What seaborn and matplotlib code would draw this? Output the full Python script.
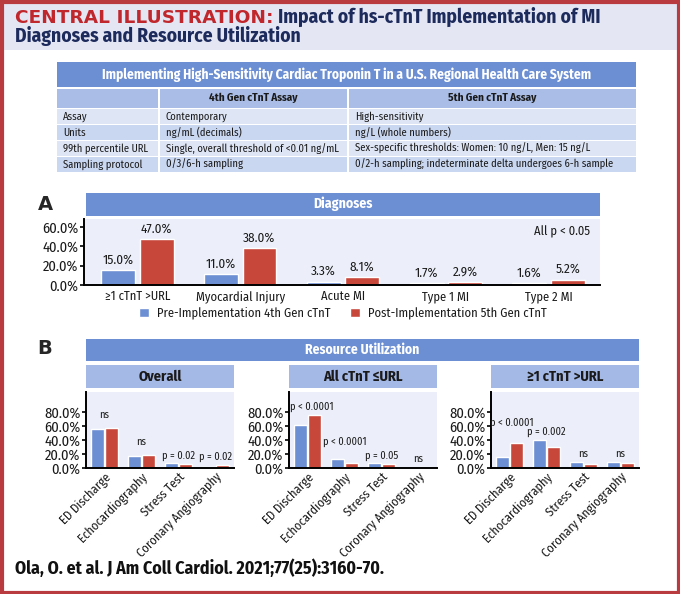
import matplotlib
matplotlib.use("Agg")
import matplotlib.pyplot as plt
import matplotlib.patches as mpatches
from matplotlib.ticker import PercentFormatter
import seaborn as sns
import pandas as pd

sns.set_style("white")
plt.rcParams['font.family'] = ['Fira Sans Condensed', 'Asap Condensed', 'DejaVu Sans']

## Data

periods = ["Pre-Implementation 4th Gen cTnT", "Post-Implementation 5th Gen cTnT"]

diagnoses = ["≥1 cTnT >URL", "Myocardial Injury", "Acute MI", "Type 1 MI", "Type 2 MI"]
diag_pre = [15.0, 11.0, 3.3, 1.7, 1.6]
diag_post = [47.0, 38.0, 8.1, 2.9, 5.2]

resources = ["ED Discharge", "Echocardiography", "Stress Test", "Coronary Angiography"]
overall_pre = [55.0, 17.0, 6.5, 1.5]
overall_post = [57.0, 18.0, 5.5, 4.0]
normal_pre = [61.0, 13.0, 6.5, 0.5]
normal_post = [75.0, 7.0, 5.5, 1.0]
elevated_pre = [15.5, 40.0, 8.0, 9.0]
elevated_post = [35.5, 30.0, 5.5, 7.0]

overall_p = ["ns", "ns", "p = 0.02", "p = 0.02"]
normal_p = ["p < 0.0001", "p < 0.0001", "p = 0.05", "ns"]
elevated_p = ["p < 0.0001", "p = 0.002", "ns", "ns"]

table_title = "Implementing High-Sensitivity Cardiac Troponin T in a U.S. Regional Health Care System"
table_cols = ["", "4th Gen cTnT Assay", "5th Gen cTnT Assay"]
table_rows = [
    ["Assay", "Contemporary", "High-sensitivity"],
    ["Units", "ng/mL (decimals)", "ng/L (whole numbers)"],
    ["99th percentile URL", "Single, overall threshold of <0.01 ng/mL",
     "Sex-specific thresholds: Women: 10 ng/L, Men: 15 ng/L"],
    ["Sampling protocol", "0/3/6-h sampling", "0/2-h sampling; indeterminate delta undergoes 6-h sample"],
]

## Colors / layout helpers

blue = "#6c8fd3"
red = "#c8473b"
panel_bg = "#eceff9"
sub_hdr = "#a4b9e6"
navy = "#1d2a5c"
ink = "#1a1a1a"
W, H = 680, 594

fig = plt.figure(figsize=(W / 100, H / 100), dpi=100)

bg = fig.add_axes([0, 0, 1, 1], zorder=0)
bg.set_xlim(0, W)
bg.set_ylim(H, 0)
bg.axis("off")


def px_axes(x0, y0, x1, y1):
    return fig.add_axes([x0 / W, 1 - y1 / H, (x1 - x0) / W, (y1 - y0) / H], zorder=2)


def box(x0, y0, x1, y1, color):
    bg.add_patch(mpatches.Rectangle((x0, y0), x1 - x0, y1 - y0, facecolor=color, edgecolor="none"))


def style_axes(ax):
    ax.set_facecolor(panel_bg)
    ax.set_xlabel("")
    ax.set_ylabel("")
    ax.yaxis.set_major_formatter(PercentFormatter(decimals=1))
    for side in ["top", "right"]:
        ax.spines[side].set_visible(False)
    for side in ["left", "bottom"]:
        ax.spines[side].set_color("black")
        ax.spines[side].set_linewidth(1.4)
    ax.tick_params(axis="y", length=3, width=1.2, color="black", labelsize=10.5, pad=1, left=True,
                   labelcolor=ink)


# header band + frame
box(0, 0, W, 50, "#e4e7f3")
bg.add_patch(mpatches.Rectangle((1.5, 1.5), W - 3, H - 3, fill=False, edgecolor="#b93b40", linewidth=3))

t1 = bg.text(15, 27, "CENTRAL ILLUSTRATION:", color="#c0272d", fontsize=13.3, fontweight="bold", va="bottom",
             family="DejaVu Sans")
bg.annotate(" Impact of hs-cTnT Implementation of MI", xy=(1, 0), xycoords=t1, va="bottom",
            color=navy, fontsize=14, fontweight="bold")
bg.text(15, 46, "Diagnoses and Resource Utilization", color=navy, fontsize=14, fontweight="bold", va="bottom")

## Table

box(57, 62, 636, 87, blue)
bg.text(346.5, 75, table_title, color="white", fontsize=9.7, fontweight="bold", ha="center", va="center")
col_edges = [(57, 158), (160, 347), (349, 636)]
for (x0, x1), name in zip(col_edges, table_cols):
    box(x0, 88.5, x1, 107.5, "#a9bde7")
    bg.text((x0 + x1) / 2, 98, name, fontsize=8, fontweight="bold", ha="center", va="center", color=ink)
row_colors = ["#dee5f5", "#cad7f0"]
for i, row in enumerate(table_rows):
    y0 = 109 + i * 16
    for (x0, x1), cell in zip(col_edges, row):
        box(x0, y0, x1, y0 + 15, row_colors[i % 2])
        bg.text(x0 + 6, y0 + 7.5, cell, fontsize=7.6, va="center", color=ink)

## Panel A - diagnoses

bg.text(45, 205, "A", fontsize=14, fontweight="bold", ha="center", va="center", family="DejaVu Sans")
box(86, 193, 600, 215.5, blue)
bg.text(343, 204, "Diagnoses", color="white", fontsize=10, fontweight="bold", ha="center", va="center")

diagDf = pd.DataFrame({
    "diagnosis": diagnoses * 2,
    "pct": diag_pre + diag_post,
    "period": [periods[0]] * len(diagnoses) + [periods[1]] * len(diagnoses),
})

axA = px_axes(84, 219, 600, 285)
sns.barplot(data=diagDf, x="diagnosis", y="pct", hue="period", palette=[blue, red], saturation=1,
            width=0.75, gap=0.12, ax=axA)
for container in axA.containers:
    axA.bar_label(container, fmt="%.1f%%", padding=3, fontsize=9.5, color=ink)
axA.set_ylim(0, 68)
axA.set_xlim(-0.52, 4.5)
axA.set_yticks([0, 20, 40, 60])
style_axes(axA)
axA.tick_params(axis="x", length=0, labelsize=9, pad=4, labelcolor=ink)
axA.text(0.98, 0.8, "All p < 0.05", transform=axA.transAxes, ha="right", va="center", fontsize=9, color=ink)

handles, labels = axA.get_legend_handles_labels()
axA.get_legend().remove()
fig.legend(handles, labels, loc="center", bbox_to_anchor=(343 / W, 1 - 313 / H), ncol=2, frameon=False,
           fontsize=9, handlelength=0.8, handleheight=0.8, handletextpad=0.6, columnspacing=1.6,
           labelcolor=ink)

## Panel B - resource utilization

bg.text(45, 348, "B", fontsize=14, fontweight="bold", ha="center", va="center", family="DejaVu Sans")
box(86, 339, 639, 361, blue)
bg.text(362, 350, "Resource Utilization", color="white", fontsize=9.8, fontweight="bold", ha="center",
        va="center")

# (title, pre, post, p labels, label heights, first-label shift, left edge in px)
panels = [
    ("Overall", overall_pre, overall_post, overall_p, [76, 37, 18, 16], 0.0, 86),
    ("All cTnT ≤URL", normal_pre, normal_post, normal_p, [87, 37, 18, 13], 0.12, 289),
    ("≥1 cTnT >URL", elevated_pre, elevated_post, elevated_p, [64, 51, 20, 20], 0.05, 491),
]

for title, pre, post, pvals, label_y, shift, left in panels:
    right = left + 148
    box(left, 365, right, 388, sub_hdr)
    bg.text((left + right) / 2, 376.5, title, fontsize=10.4, fontweight="bold", ha="center", va="center",
            color=ink)

    resDf = pd.DataFrame({
        "resource": resources * 2,
        "pct": pre + post,
        "period": [periods[0]] * len(resources) + [periods[1]] * len(resources),
    })
    ax = px_axes(left, 392, right, 468)
    sns.barplot(data=resDf, x="resource", y="pct", hue="period", palette=[blue, red], saturation=1,
                width=0.76, gap=0.08, ax=ax, legend=False)
    ax.set_ylim(0, 108)
    ax.set_yticks([0, 20, 40, 60, 80])
    style_axes(ax)
    ax.tick_params(axis="x", length=0, labelsize=9, pad=2, labelcolor=ink)
    for lbl in ax.get_xticklabels():
        lbl.set_rotation(45)
        lbl.set_ha("right")
        lbl.set_rotation_mode("anchor")
    for i, (p, y) in enumerate(zip(pvals, label_y)):
        dx = shift if i == 0 else 0
        ax.text(i + dx, y, p, ha="center", va="center", fontsize=7.5, color=ink, zorder=5)

## Citation

bg.text(15, 568, "Ola, O. et al. J Am Coll Cardiol. 2021;77(25):3160-70.", fontsize=12.8, fontweight="bold",
        va="center", color="#111111")

fig.savefig("out.png", dpi=100)
